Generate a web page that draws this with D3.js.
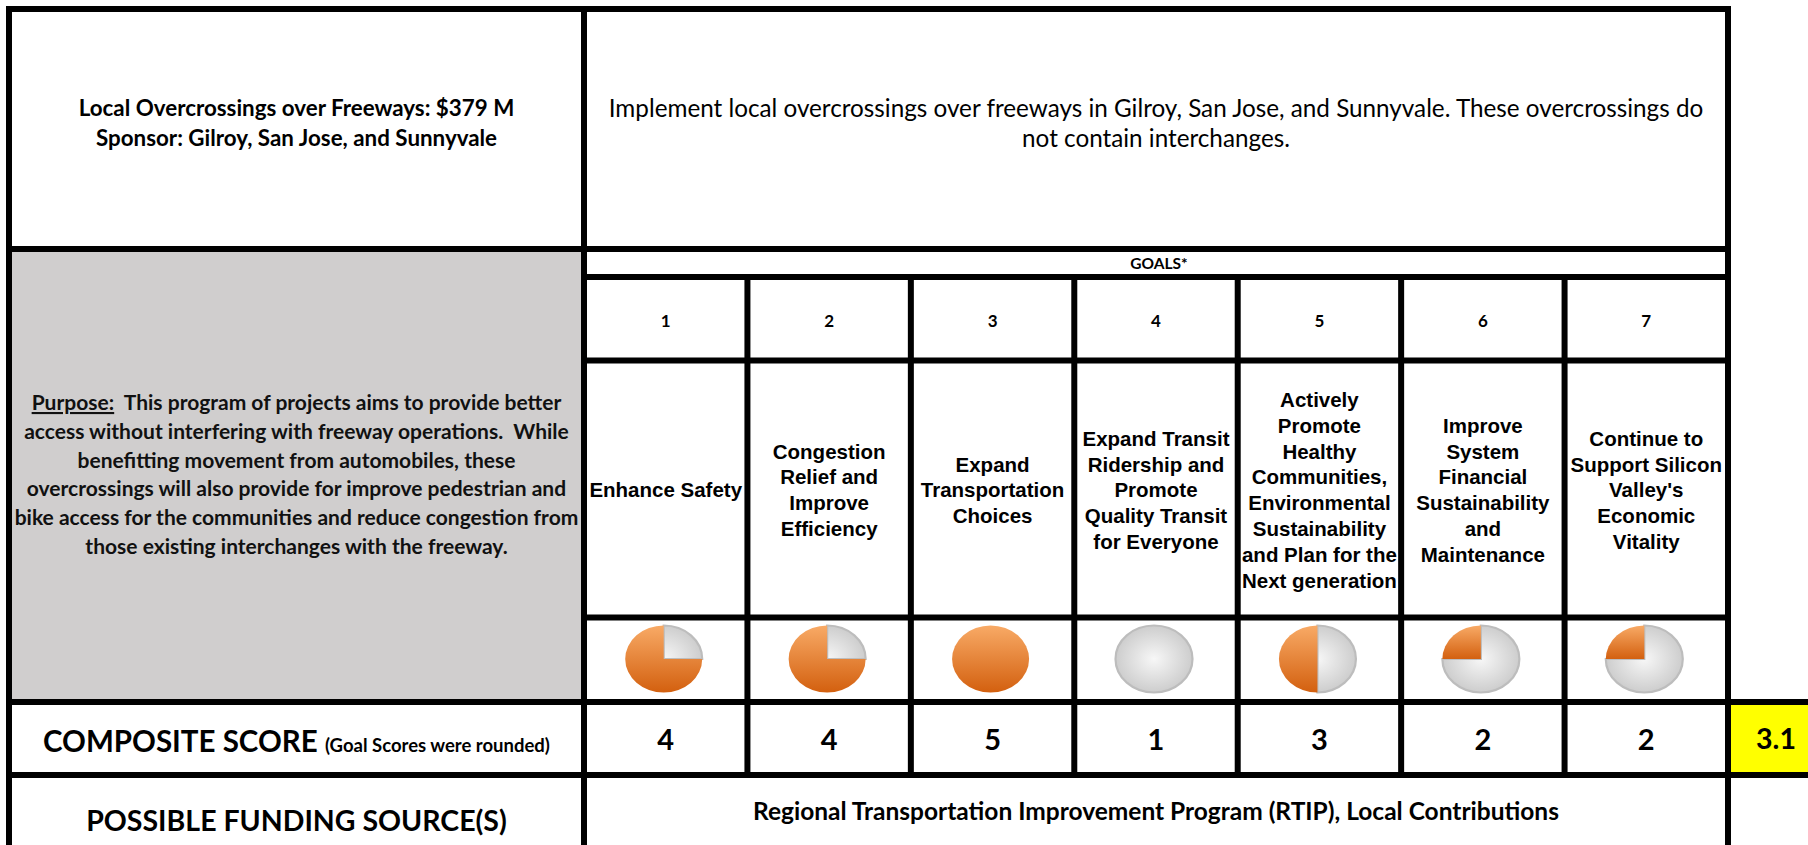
<!DOCTYPE html>
<html>
<head>
<meta charset="utf-8">
<script src="https://cdn.jsdelivr.net/npm/d3@7"></script>
<style>
  html, body { margin: 0; padding: 0; background: #ffffff; }
  svg { display: block; }
  text { white-space: pre; }
</style>
</head>
<body>
<svg id="chart" width="1808" height="845"></svg>
<script>
// ---------------- DATA ----------------
const projectTitle = ["Local Overcrossings over Freeways: $379 M", "Sponsor: Gilroy, San Jose, and Sunnyvale"];
const projectDescription = [
  "Implement local overcrossings over freeways in Gilroy, San Jose, and Sunnyvale. These overcrossings do",
  "not contain interchanges."
];
const purposeLabel = "Purpose:";
const purposeLines = [
  "  This program of projects aims to provide better",
  "access without interfering with freeway operations.  While",
  "benefitting movement from automobiles, these",
  "overcrossings will also provide for improve pedestrian and",
  "bike access for the communities and reduce congestion from",
  "those existing interchanges with the freeway."
];
const goalsHeader = "GOALS*";
const goalNumbers = ["1", "2", "3", "4", "5", "6", "7"];
const goalLabels = [
  ["Enhance Safety"],
  ["Congestion", "Relief and", "Improve", "Efficiency"],
  ["Expand", "Transportation", "Choices"],
  ["Expand Transit", "Ridership and", "Promote", "Quality Transit", "for Everyone"],
  ["Actively", "Promote", "Healthy", "Communities,", "Environmental", "Sustainability", "and Plan for the", "Next generation"],
  ["Improve", "System", "Financial", "Sustainability", "and", "Maintenance"],
  ["Continue to", "Support Silicon", "Valley's", "Economic", "Vitality"]
];
const goalScores = [4, 4, 5, 1, 3, 2, 2];
const scoreRange = [1, 5];
const compositeScore = 3.1;
const compositeLabel = "COMPOSITE SCORE";
const compositeNote = "(Goal Scores were rounded)";
const fundingLabel = "POSSIBLE FUNDING SOURCE(S)";
const fundingSources = "Regional Transportation Improvement Program (RTIP), Local Contributions";

// ---------------- LAYOUT ----------------
const L = {
  left: 9, split: 584, right: 1728, edge: 1808,
  yTop: 9, yHead: 249, yGoals: 277, yNum: 360.5, yLab: 617.5, yPie: 702, yComp: 775, yBottom: 845,
  lw: 6
};
const FONT_C = "Lato, 'Open Sans', sans-serif";
const FONT_A = "'Liberation Sans', Arial, sans-serif";

const svg = d3.select("#chart");
const defs = svg.append("defs");

const og = defs.append("linearGradient").attr("id", "orangeGrad")
  .attr("x1", 0).attr("y1", 0).attr("x2", 0).attr("y2", 1);
og.append("stop").attr("offset", "0%").attr("stop-color", "#f8aa66");
og.append("stop").attr("offset", "100%").attr("stop-color", "#d3600f");

const gg = defs.append("radialGradient").attr("id", "grayGrad")
  .attr("gradientUnits", "userSpaceOnUse").attr("cx", 0).attr("cy", 0).attr("r", 1);
gg.append("stop").attr("offset", "0%").attr("stop-color", "#f7f7f7");
gg.append("stop").attr("offset", "100%").attr("stop-color", "#cdcdcd");

const x = d3.scaleBand().domain(goalNumbers).range([L.split, L.right]);
const cx = d => x(d) + x.bandwidth() / 2;
const fillAngle = d3.scaleLinear().domain(scoreRange).range([0, 2 * Math.PI]);

function fitSize(sel, target) {
  const w = sel.node().getComputedTextLength();
  const s = parseFloat(sel.attr("font-size"));
  return s * target / w;
}

// ---------------- BACKGROUNDS ----------------
svg.append("rect").attr("x", L.left + L.lw / 2).attr("y", L.yHead + L.lw / 2)
  .attr("width", L.split - L.left - L.lw).attr("height", L.yPie - L.yHead - L.lw)
  .attr("fill", "#d0cece");
svg.append("rect").attr("x", L.right + L.lw / 2).attr("y", L.yPie + L.lw / 2)
  .attr("width", L.edge - L.right - L.lw / 2).attr("height", L.yComp - L.yPie - L.lw)
  .attr("fill", "#ffff00");

// ---------------- TEXT: header ----------------
const midL = (L.left + L.split) / 2;
const midR = (L.split + L.right) / 2;

const t1 = svg.append("text").attr("x", midL).attr("y", 116)
  .attr("font-family", FONT_C).attr("font-weight", 700).attr("font-size", 20)
  .attr("text-anchor", "middle").text(projectTitle[0]);
const fsTitle = fitSize(t1, 436);
t1.attr("font-size", fsTitle);
svg.append("text").attr("x", midL).attr("y", 146)
  .attr("font-family", FONT_C).attr("font-weight", 700).attr("font-size", fsTitle)
  .attr("text-anchor", "middle").text(projectTitle[1]);

const d1 = svg.append("text").attr("x", midR).attr("y", 117)
  .attr("font-family", FONT_C).attr("font-weight", 400).attr("font-size", 20)
  .attr("text-anchor", "middle").text(projectDescription[0]);
const fsDesc = fitSize(d1, 1095);
d1.attr("font-size", fsDesc);
svg.append("text").attr("x", midR).attr("y", 147)
  .attr("font-family", FONT_C).attr("font-weight", 400).attr("font-size", fsDesc)
  .attr("text-anchor", "middle").text(projectDescription[1]);

// ---------------- Purpose ----------------
const probe = svg.append("text").attr("font-family", FONT_C).attr("font-weight", 700)
  .attr("font-size", 20).text(purposeLines[4]);
const fsPurp = fitSize(probe, 564);
probe.remove();
const pG = svg.append("g").attr("font-family", FONT_C).attr("font-weight", 700)
  .attr("font-size", fsPurp).attr("text-anchor", "middle").attr("fill", "#111");
purposeLines.forEach((line, i) => {
  const t = pG.append("text").attr("x", midL).attr("y", 410 + i * 28.8);
  if (i === 0) {
    t.append("tspan").attr("text-decoration", "underline").text(purposeLabel);
    t.append("tspan").text(line);
  } else {
    t.text(line);
  }
});

// ---------------- Goals header / numbers ----------------
svg.append("text").attr("x", midR + 3).attr("y", 268.5)
  .attr("font-family", FONT_C).attr("font-weight", 700).attr("font-size", 15.5)
  .attr("text-anchor", "middle").text(goalsHeader);

svg.append("g").selectAll("text").data(goalNumbers).join("text")
  .attr("x", d => cx(d)).attr("y", 327)
  .attr("font-family", FONT_C).attr("font-weight", 700).attr("font-size", 17)
  .attr("text-anchor", "middle").text(d => d);

// ---------------- Goal labels ----------------
const labG = svg.append("g").attr("font-family", FONT_A).attr("font-weight", 700)
  .attr("font-size", 20.5).attr("text-anchor", "middle");
goalLabels.forEach((lines, gi) => {
  const n = lines.length;
  lines.forEach((line, li) => {
    labG.append("text").attr("x", cx(goalNumbers[gi]))
      .attr("y", 497.3 + (li - (n - 1) / 2) * 25.8).text(line);
  });
});

// ---------------- Pies ----------------
const arc = d3.arc().innerRadius(0).outerRadius(1);
const pieG = svg.append("g").selectAll("g").data(goalScores).join("g")
  .attr("transform", (d, i) => `translate(${cx(goalNumbers[i]) - 2},659) scale(38.5,33.5)`);
pieG.each(function (s) {
  const g = d3.select(this);
  const a = fillAngle(s);
  if (a < 2 * Math.PI) {
    g.append("path")
      .attr("d", arc({ startAngle: 0, endAngle: 2 * Math.PI - a }))
      .attr("fill", "url(#grayGrad)")
      .attr("stroke", "#bdbdbd").attr("stroke-width", 2.2)
      .attr("vector-effect", "non-scaling-stroke");
  }
  if (a > 0) {
    g.append("path")
      .attr("d", arc({ startAngle: 2 * Math.PI - a, endAngle: 2 * Math.PI }))
      .attr("fill", "url(#orangeGrad)");
  }
});

// ---------------- Composite row ----------------
const cl = svg.append("text").attr("x", midL).attr("y", 752)
  .attr("font-family", FONT_C).attr("font-weight", 700).attr("text-anchor", "middle");
cl.append("tspan").attr("font-size", 29.5).text(compositeLabel + " ");
cl.append("tspan").attr("font-size", 18.5).text(compositeNote);

svg.append("g").selectAll("text").data(goalScores).join("text")
  .attr("x", (d, i) => cx(goalNumbers[i])).attr("y", 750)
  .attr("font-family", FONT_C).attr("font-weight", 700).attr("font-size", 29)
  .attr("text-anchor", "middle").text(d => d);

svg.append("text").attr("x", 1776).attr("y", 749)
  .attr("font-family", FONT_C).attr("font-weight", 700).attr("font-size", 28.5)
  .attr("text-anchor", "middle").text(d3.format(".1f")(compositeScore));

// ---------------- Funding row ----------------
svg.append("text").attr("x", midL).attr("y", 831)
  .attr("font-family", FONT_C).attr("font-weight", 700).attr("font-size", 28.5)
  .attr("text-anchor", "middle").text(fundingLabel);
const fsrc = svg.append("text").attr("x", midR).attr("y", 820)
  .attr("font-family", FONT_C).attr("font-weight", 700).attr("font-size", 20)
  .attr("text-anchor", "middle").text(fundingSources);
fsrc.attr("font-size", fitSize(fsrc, 806));

// ---------------- GRID LINES ----------------
const lineG = svg.append("g").attr("stroke", "#000").attr("stroke-width", L.lw)
  .attr("stroke-linecap", "square");
const hLines = [
  [L.yTop, L.left, L.right], [L.yHead, L.left, L.right],
  [L.yGoals, L.split, L.right], [L.yNum, L.split, L.right], [L.yLab, L.split, L.right],
  [L.yPie, L.left, L.edge + 3], [L.yComp, L.left, L.edge + 3]
];
lineG.selectAll("line.h").data(hLines).join("line").attr("class", "h")
  .attr("x1", d => d[1]).attr("x2", d => d[2]).attr("y1", d => d[0]).attr("y2", d => d[0]);
const vLines = [
  [L.left, L.yTop, L.yBottom + 3], [L.split, L.yTop, L.yBottom + 3], [L.right, L.yTop, L.yBottom + 3]
].concat(goalNumbers.slice(1).map(d => [x(d), L.yGoals, L.yComp]));
lineG.selectAll("line.v").data(vLines).join("line").attr("class", "v")
  .attr("x1", d => d[0]).attr("x2", d => d[0]).attr("y1", d => d[1]).attr("y2", d => d[2]);
</script>
</body>
</html>
